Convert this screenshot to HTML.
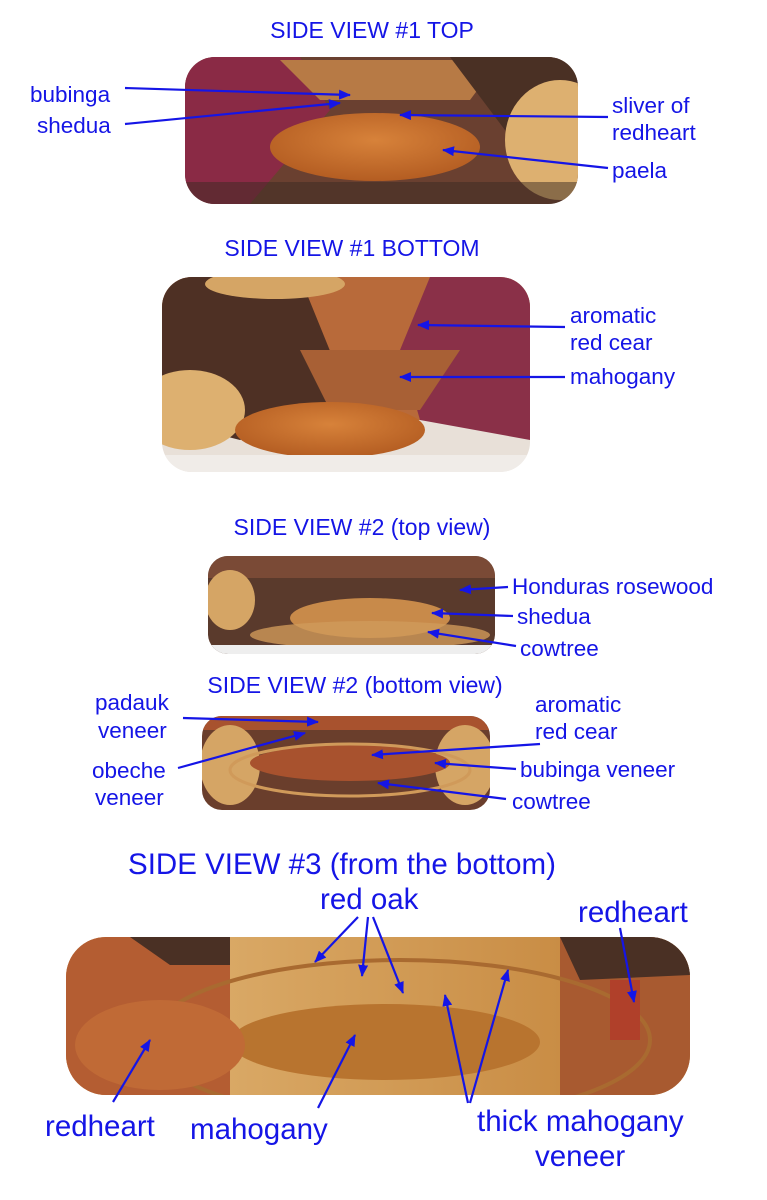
<!DOCTYPE html>
<html><head><meta charset="utf-8"><style>
html,body{margin:0;padding:0;background:#fff;}
svg{display:block;}
text{font-family:"Liberation Sans",Arial,sans-serif;fill:#1515e6;}
</style></head><body>
<svg width="767" height="1200" viewBox="0 0 767 1200" xmlns="http://www.w3.org/2000/svg">
<defs>
<marker id="a" markerWidth="12" markerHeight="10" refX="11" refY="5" orient="auto" markerUnits="userSpaceOnUse">
<path d="M0,0 L12,5 L0,10 Z" fill="#1515e6"/></marker>
<linearGradient id="oak" x1="0" x2="1"><stop offset="0" stop-color="#d9a865"/><stop offset="1" stop-color="#c98d45"/></linearGradient>
<radialGradient id="org" cx="0.5" cy="0.4" r="0.6"><stop offset="0" stop-color="#d7823a"/><stop offset="1" stop-color="#b45d22"/></radialGradient>
<clipPath id="c1"><rect x="185" y="57" width="393" height="147" rx="30"/></clipPath>
<clipPath id="c2"><rect x="162" y="277" width="368" height="195" rx="30"/></clipPath>
<clipPath id="c3"><rect x="208" y="556" width="287" height="98" rx="20"/></clipPath>
<clipPath id="c4"><rect x="202" y="716" width="288" height="94" rx="20"/></clipPath>
<clipPath id="c5"><rect x="66" y="937" width="624" height="158" rx="40"/></clipPath>
</defs>

<g clip-path="url(#c1)">
<rect x="185" y="57" width="393" height="147" fill="#6a4030"/>
<path d="M185,57 L300,57 L330,110 L250,204 L185,204Z" fill="#8a2a45"/>
<path d="M280,60 L500,60 L470,100 L320,100Z" fill="#b77a45"/>
<path d="M450,57 L578,57 L578,130 L520,150Z" fill="#4a3024"/>
<ellipse cx="560" cy="140" rx="55" ry="60" fill="#ddb070"/>
<ellipse cx="375" cy="147" rx="105" ry="34" fill="url(#org)"/>
<rect x="185" y="182" width="393" height="22" fill="#3a2a22" opacity="0.5"/>
</g>
<g clip-path="url(#c2)">
<rect x="162" y="277" width="368" height="195" fill="#e8e0d8"/>
<path d="M162,277 L530,277 L530,420 L162,420Z" fill="#b86a3a"/>
<path d="M162,277 L300,277 L350,400 L240,440 L162,420Z" fill="#4e3024"/>
<path d="M430,277 L530,277 L530,440 L420,420 L400,350Z" fill="#8a3048"/>
<path d="M300,350 L460,350 L420,410 L330,410Z" fill="#a86035"/>
<ellipse cx="190" cy="410" rx="55" ry="40" fill="#ddb070"/>
<ellipse cx="275" cy="284" rx="70" ry="15" fill="#d5a565"/>
<ellipse cx="330" cy="430" rx="95" ry="28" fill="url(#org)"/>
<rect x="162" y="455" width="368" height="17" fill="#f0ece8"/>
</g>
<g clip-path="url(#c3)">
<rect x="208" y="556" width="287" height="98" fill="#5a3a2c"/>
<rect x="208" y="556" width="287" height="22" fill="#7a4a36"/>
<ellipse cx="230" cy="600" rx="25" ry="30" fill="#d5a565"/>
<ellipse cx="370" cy="618" rx="80" ry="20" fill="#c88a4a"/>
<ellipse cx="370" cy="635" rx="120" ry="14" fill="#d09a5a" opacity="0.8"/>
<rect x="208" y="645" width="287" height="9" fill="#eee"/>
</g>
<g clip-path="url(#c4)">
<rect x="202" y="716" width="288" height="94" fill="#6a3e2c"/>
<rect x="202" y="716" width="288" height="14" fill="#a8522e"/>
<ellipse cx="230" cy="765" rx="30" ry="40" fill="#d5a565"/>
<ellipse cx="465" cy="765" rx="30" ry="40" fill="#d5a565"/>
<ellipse cx="350" cy="763" rx="100" ry="18" fill="#a8522e"/>
<ellipse cx="350" cy="770" rx="120" ry="26" fill="none" stroke="#d09a5a" stroke-width="3"/>
</g>
<g clip-path="url(#c5)">
<rect x="66" y="937" width="624" height="158" fill="#c98d45"/>
<rect x="66" y="937" width="165" height="158" fill="#b45d32"/>
<path d="M130,937 L330,937 L300,965 L170,965Z" fill="#4a3024"/>
<rect x="560" y="937" width="130" height="158" fill="#a85a30"/>
<path d="M560,937 L690,937 L690,975 L580,980Z" fill="#4a3024"/>
<rect x="230" y="937" width="330" height="158" fill="url(#oak)"/>
<ellipse cx="400" cy="1040" rx="250" ry="80" fill="none" stroke="#a96a30" stroke-width="4"/>
<ellipse cx="385" cy="1042" rx="155" ry="38" fill="#b8742f"/>
<ellipse cx="160" cy="1045" rx="85" ry="45" fill="#c06a36"/>
<rect x="610" y="980" width="30" height="60" fill="#b0402a"/>
</g>

<g font-size="23" text-anchor="middle">
<text x="372" y="38">SIDE VIEW #1 TOP</text>
<text x="352" y="256">SIDE VIEW #1 BOTTOM</text>
<text x="362" y="535">SIDE VIEW #2 (top view)</text>
<text x="355" y="693">SIDE VIEW #2 (bottom view)</text>
</g>
<text x="342" y="874" font-size="29.5" text-anchor="middle">SIDE VIEW #3 (from the bottom)</text>

<g font-size="22.5">
<text x="30" y="102">bubinga</text>
<text x="37" y="133">shedua</text>
<text x="612" y="113">sliver of</text>
<text x="612" y="140">redheart</text>
<text x="612" y="178">paela</text>
<text x="570" y="323">aromatic</text>
<text x="570" y="350">red cear</text>
<text x="570" y="384">mahogany</text>
<text x="512" y="594">Honduras rosewood</text>
<text x="517" y="624">shedua</text>
<text x="520" y="656">cowtree</text>
<text x="95" y="710">padauk</text>
<text x="98" y="738">veneer</text>
<text x="92" y="778">obeche</text>
<text x="95" y="805">veneer</text>
<text x="535" y="712">aromatic</text>
<text x="535" y="739">red cear</text>
<text x="520" y="777">bubinga veneer</text>
<text x="512" y="809">cowtree</text>
</g>
<g font-size="29.5">
<text x="320" y="909">red oak</text>
<text x="578" y="922">redheart</text>
<text x="45" y="1136">redheart</text>
<text x="190" y="1139">mahogany</text>
<text x="477" y="1131">thick mahogany</text>
<text x="535" y="1166">veneer</text>
</g>

<g stroke="#1515e6" stroke-width="2.2" fill="none" marker-end="url(#a)">
<line x1="125" y1="88" x2="350" y2="95"/>
<line x1="125" y1="124" x2="340" y2="103"/>
<line x1="608" y1="117" x2="400" y2="115"/>
<line x1="608" y1="168" x2="443" y2="150"/>
<line x1="565" y1="327" x2="418" y2="325"/>
<line x1="565" y1="377" x2="400" y2="377"/>
<line x1="508" y1="587" x2="460" y2="590"/>
<line x1="513" y1="616" x2="432" y2="613"/>
<line x1="516" y1="646" x2="428" y2="632"/>
<line x1="183" y1="718" x2="318" y2="722"/>
<line x1="178" y1="768" x2="305" y2="733"/>
<line x1="540" y1="744" x2="372" y2="755"/>
<line x1="516" y1="769" x2="435" y2="763"/>
<line x1="506" y1="799" x2="378" y2="783"/>
<line x1="358" y1="917" x2="315" y2="962"/>
<line x1="368" y1="917" x2="362" y2="976"/>
<line x1="373" y1="917" x2="403" y2="993"/>
<line x1="620" y1="928" x2="634" y2="1002"/>
<line x1="113" y1="1102" x2="150" y2="1040"/>
<line x1="318" y1="1108" x2="355" y2="1035"/>
<line x1="468" y1="1103" x2="445" y2="995"/>
<line x1="470" y1="1103" x2="508" y2="970"/>
</g>
</svg>
</body></html>
